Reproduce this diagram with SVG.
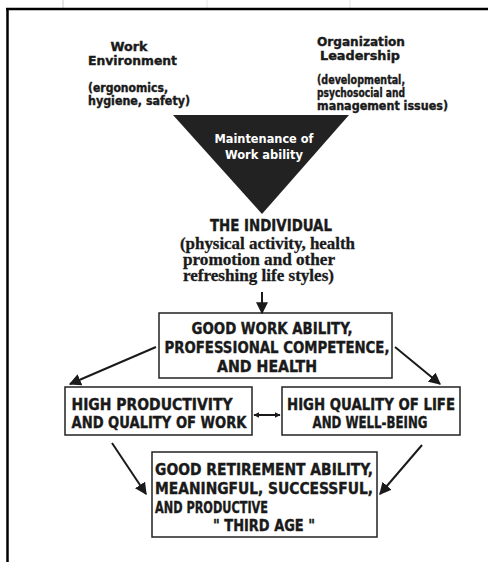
<svg xmlns="http://www.w3.org/2000/svg" width="488" height="562" viewBox="0 0 488 562">
<defs>
<style>
.h{font-family:"DejaVu Sans Condensed","DejaVu Sans","Liberation Sans",sans-serif;font-stretch:condensed;font-weight:bold;fill:#1a1a1a;stroke:#1a1a1a;stroke-width:0.35;}
.w{font-family:"DejaVu Sans Condensed","DejaVu Sans","Liberation Sans",sans-serif;font-stretch:condensed;font-weight:bold;fill:#fff;}
.s{font-family:"Liberation Serif","DejaVu Serif",serif;font-weight:bold;fill:#1a1a1a;stroke:#1a1a1a;stroke-width:0.3;}
.box{fill:#fff;stroke:#222;stroke-width:1.5;}
.ln{stroke:#1a1a1a;stroke-width:2;fill:none;}
</style>
<marker id="ah" viewBox="0 0 10 10" refX="9" refY="5" markerWidth="6" markerHeight="6" orient="auto-start-reverse" markerUnits="userSpaceOnUse">
<path d="M0,0 L10,5 L0,10 z" fill="#1a1a1a"/>
</marker>
<marker id="ahL" viewBox="0 0 10 10" refX="9" refY="5" markerWidth="12" markerHeight="12" orient="auto" markerUnits="userSpaceOnUse">
<path d="M0,0 L10,5 L0,10 z" fill="#1a1a1a"/>
</marker>
</defs>
<rect width="488" height="562" fill="#fff"/>
<g id="frame">
<line x1="63" y1="0" x2="63" y2="8" stroke="#ccc" stroke-width="1"/>
<line x1="207" y1="0" x2="207" y2="8" stroke="#e4e4e4" stroke-width="1"/>
<line x1="350" y1="0" x2="350" y2="8" stroke="#e4e4e4" stroke-width="1"/>
<line x1="6" y1="9" x2="488" y2="9" stroke="#000" stroke-width="2.5"/>
<line x1="7.5" y1="8" x2="7.5" y2="562" stroke="#000" stroke-width="2.5"/>
</g>
<g id="work-environment">
<text class="h" font-size="12.5" x="129" y="51" text-anchor="middle" textLength="37" lengthAdjust="spacingAndGlyphs">Work</text>
<text class="h" font-size="12.5" x="88" y="65" textLength="89" lengthAdjust="spacingAndGlyphs">Environment</text>
<text class="h" font-size="11.5" x="88" y="92" textLength="80" lengthAdjust="spacingAndGlyphs">(ergonomics,</text>
<text class="h" font-size="11.5" x="88" y="105" textLength="102" lengthAdjust="spacingAndGlyphs">hygiene, safety)</text>
</g>
<g id="organization-leadership">
<text class="h" font-size="12.5" x="317" y="46" textLength="88" lengthAdjust="spacingAndGlyphs">Organization</text>
<text class="h" font-size="12.5" x="320" y="60" textLength="80" lengthAdjust="spacingAndGlyphs">Leadership</text>
<text class="h" font-size="11.5" x="317" y="84" textLength="88" lengthAdjust="spacingAndGlyphs">(developmental,</text>
<text class="h" font-size="11.5" x="317" y="97" textLength="88" lengthAdjust="spacingAndGlyphs">psychosocial and</text>
<text class="h" font-size="11.5" x="317" y="110" textLength="131" lengthAdjust="spacingAndGlyphs">management issues)</text>
</g>
<g id="maintenance">
<polygon points="173,115 349,115 262,214" fill="#222"/>
<text class="w" font-size="13" x="264" y="143" text-anchor="middle" textLength="99" lengthAdjust="spacingAndGlyphs">Maintenance of</text>
<text class="w" font-size="13" x="264" y="159" text-anchor="middle" textLength="78" lengthAdjust="spacingAndGlyphs">Work ability</text>
</g>
<g id="individual">
<text class="h" font-size="15" x="271" y="231" text-anchor="middle" textLength="122" lengthAdjust="spacingAndGlyphs">THE INDIVIDUAL</text>
<text class="s" font-size="16" x="180" y="249" textLength="175" lengthAdjust="spacingAndGlyphs">(physical activity, health</text>
<text class="s" font-size="16" x="183" y="265" textLength="152" lengthAdjust="spacingAndGlyphs">promotion and other</text>
<text class="s" font-size="16" x="183" y="281" textLength="151" lengthAdjust="spacingAndGlyphs">refreshing life styles)</text>
</g>
<g id="good-work-ability">
<rect class="box" x="159" y="313" width="233" height="65"/>
<text class="h" font-size="15" x="272" y="334" text-anchor="middle" textLength="161" lengthAdjust="spacingAndGlyphs">GOOD WORK ABILITY,</text>
<text class="h" font-size="15" x="277" y="353" text-anchor="middle" textLength="225" lengthAdjust="spacingAndGlyphs">PROFESSIONAL COMPETENCE,</text>
<text class="h" font-size="15" x="267" y="372" text-anchor="middle" textLength="100" lengthAdjust="spacingAndGlyphs">AND HEALTH</text>
</g>
<g id="high-productivity">
<rect class="box" x="65" y="387" width="187" height="48"/>
<text class="h" font-size="15" x="152" y="410" text-anchor="middle" textLength="161" lengthAdjust="spacingAndGlyphs">HIGH PRODUCTIVITY</text>
<text class="h" font-size="15" x="159" y="428" text-anchor="middle" textLength="175" lengthAdjust="spacingAndGlyphs">AND QUALITY OF WORK</text>
</g>
<g id="high-quality-of-life">
<rect class="box" x="282" y="387" width="178" height="48"/>
<text class="h" font-size="15" x="371" y="410" text-anchor="middle" textLength="168" lengthAdjust="spacingAndGlyphs">HIGH QUALITY OF LIFE</text>
<text class="h" font-size="15" x="370" y="428" text-anchor="middle" textLength="115" lengthAdjust="spacingAndGlyphs">AND WELL-BEING</text>
</g>
<g id="third-age">
<rect class="box" x="152" y="452" width="225" height="85"/>
<text class="h" font-size="15" x="155" y="475" textLength="218" lengthAdjust="spacingAndGlyphs">GOOD RETIREMENT ABILITY,</text>
<text class="h" font-size="15" x="155" y="494" textLength="218" lengthAdjust="spacingAndGlyphs">MEANINGFUL, SUCCESSFUL,</text>
<text class="h" font-size="15" x="155" y="513" textLength="113" lengthAdjust="spacingAndGlyphs">AND PRODUCTIVE</text>
<text class="h" font-size="15" x="264" y="531" text-anchor="middle" textLength="102" lengthAdjust="spacingAndGlyphs">" THIRD AGE "</text>
</g>
<g id="connectors">
<line class="ln" x1="262" y1="292" x2="262" y2="313" marker-end="url(#ahL)"/>
<line class="ln" x1="156" y1="347" x2="70" y2="384" marker-end="url(#ahL)"/>
<line class="ln" x1="395" y1="347" x2="440" y2="384" marker-end="url(#ahL)"/>
<line class="ln" x1="254" y1="415" x2="280" y2="415" marker-start="url(#ah)" marker-end="url(#ah)"/>
<line class="ln" x1="112" y1="443" x2="146" y2="494" marker-end="url(#ahL)"/>
<line class="ln" x1="422" y1="445" x2="380" y2="494" marker-end="url(#ahL)"/>
</g>
</svg>
